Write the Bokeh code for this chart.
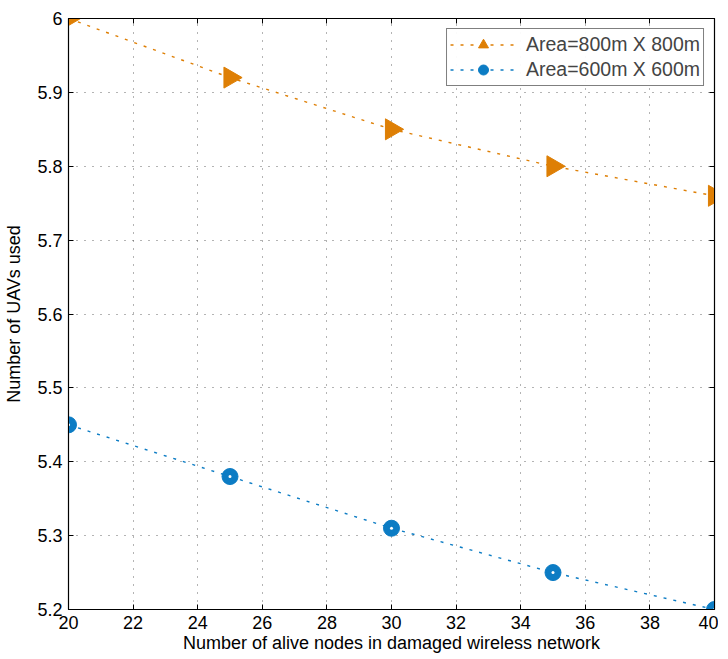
import math
from bokeh.plotting import figure
from bokeh.models import (FixedTicker, LinearAxis, Range1d, Legend, LegendItem,
                          CustomJSTickFormatter)
from bokeh.embed import file_html
from bokeh.resources import INLINE

nodes = [20, 25, 30, 35, 40]
uav_800 = [6.00, 5.92, 5.85, 5.80, 5.76]
uav_600 = [5.45, 5.38, 5.31, 5.25, 5.20]
label_800 = "Area=800m X 800m"
label_600 = "Area=600m X 600m"
x_ticks = [20, 22, 24, 26, 28, 30, 32, 34, 36, 38, 40]
y_ticks = [5.2, 5.3, 5.4, 5.5, 5.6, 5.7, 5.8, 5.9, 6.0]

ORANGE = "#DE7F05"
BLUE = "#0C7CC4"
FONT = "Liberation Sans"

p = figure(width=718, height=656, output_backend="svg", toolbar_location=None,
           x_range=Range1d(20, 40), y_range=Range1d(5.2, 6.0),
           min_border_left=68, min_border_right=4, min_border_top=18,
           min_border_bottom=47)
p.outline_line_color = "black"
p.outline_line_width = 1.2

for ax in p.xaxis + p.yaxis:
    ax.major_tick_in = 5
    ax.major_tick_out = 0
    ax.minor_tick_line_color = None
    ax.axis_line_color = "black"
    ax.major_tick_line_color = "black"
    ax.major_label_text_font = FONT
    ax.major_label_text_font_size = "18px"
    ax.major_label_text_color = "black"
    ax.axis_label_text_font = FONT
    ax.axis_label_text_font_size = "18px"
    ax.axis_label_text_font_style = "normal"
    ax.axis_label_text_color = "black"

p.xaxis.ticker = FixedTicker(ticks=x_ticks)
p.yaxis.ticker = FixedTicker(ticks=y_ticks)
p.yaxis.major_label_overrides = {6: "6"}
p.xaxis.axis_label = "Number of alive nodes in damaged wireless network"
p.yaxis.axis_label = "Number of UAVs used"
p.xaxis.axis_label_standoff = 1
p.yaxis.axis_label_standoff = 10
p.xaxis.major_label_standoff = 6
p.yaxis.major_label_standoff = 6

blank = CustomJSTickFormatter(code="return ''")
top = LinearAxis(ticker=FixedTicker(ticks=x_ticks), formatter=blank,
                 major_tick_in=5, major_tick_out=0, minor_tick_line_color=None,
                 major_label_standoff=0)
right = LinearAxis(ticker=FixedTicker(ticks=y_ticks), formatter=blank,
                   major_tick_in=5, major_tick_out=0, minor_tick_line_color=None,
                   major_label_standoff=0)
p.add_layout(top, "above")
p.add_layout(right, "right")

p.xgrid.ticker = FixedTicker(ticks=x_ticks)
p.ygrid.ticker = FixedTicker(ticks=y_ticks)
for g in (p.xgrid[0], p.ygrid[0]):
    g.grid_line_color = "#444444"
    g.grid_line_dash = "1 7"
    g.grid_line_width = 1
    g.grid_line_alpha = 0.8

l1 = p.line(nodes, uav_800, line_color=ORANGE, line_width=1.4, line_dash="3 7")
m1 = p.scatter(nodes, uav_800, marker="triangle", angle=-math.pi / 2, size=21,
               fill_color=ORANGE, line_color=ORANGE)
l2 = p.line(nodes, uav_600, line_color=BLUE, line_width=1.4, line_dash="3 7")
m2 = p.scatter(nodes, uav_600, marker="circle", size=16,
               fill_color=BLUE, line_color=BLUE)
m2b = p.scatter(nodes, uav_600, marker="circle", size=3,
                fill_color="white", line_color=None)

legend = Legend(items=[LegendItem(label=label_800, renderers=[l1, m1]),
                       LegendItem(label=label_600, renderers=[l2, m2])],
                location="top_right")
legend.label_text_font = FONT
legend.label_text_font_size = "19.5px"
legend.border_line_color = "black"
legend.border_line_width = 1
legend.glyph_width = 66
legend.glyph_height = 25
legend.label_height = 25
legend.spacing = 0
legend.padding = 3
legend.margin = 10
legend.label_standoff = 10
p.add_layout(legend)

open("out.html", "w").write(file_html(p, INLINE))
